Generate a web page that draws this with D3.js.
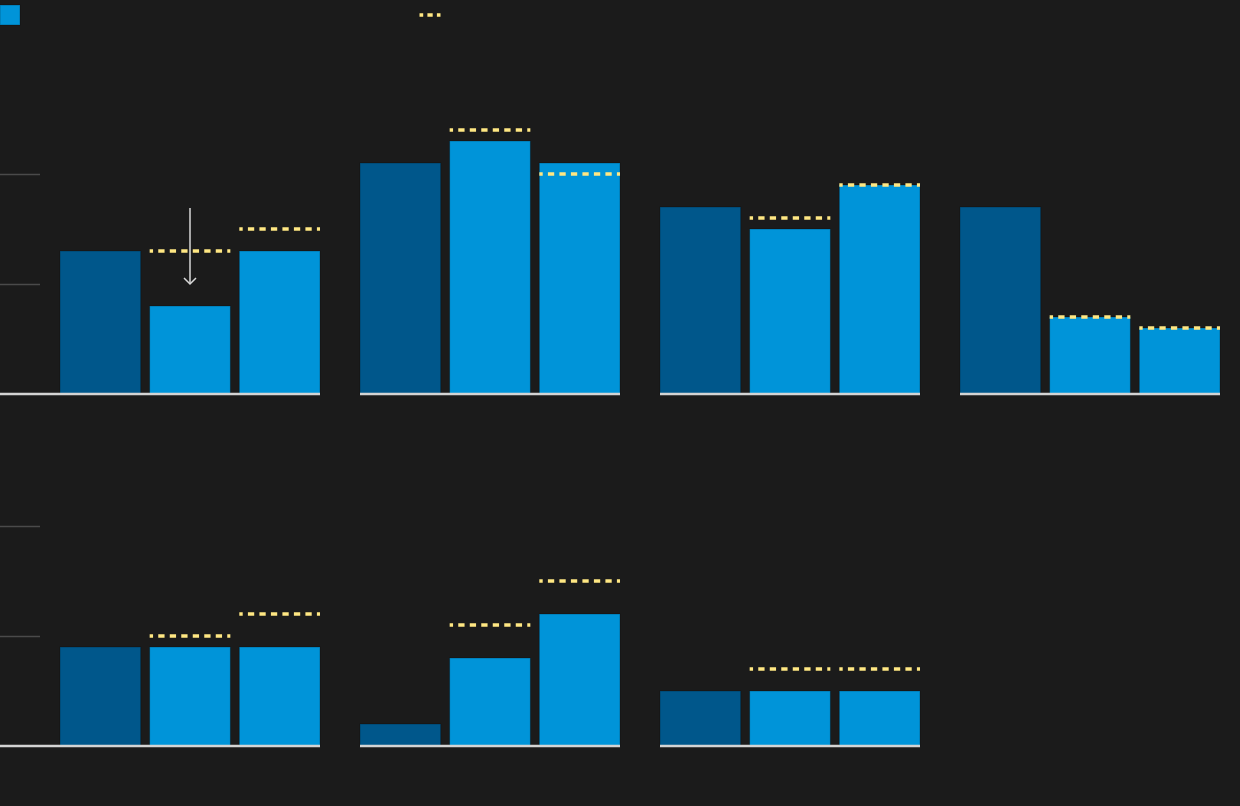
<!DOCTYPE html>
<html>
<head>
<meta charset="utf-8">
<script src="https://cdn.jsdelivr.net/npm/d3@7"></script>
<style>
html,body{margin:0;padding:0;background:#1b1b1b;}
svg{display:block;}
</style>
</head>
<body>
<svg id="chart" width="1240" height="806"></svg>
<script>
// ---- data ----
const panels = ["p1","p2","p3","p4","p5","p6","p7"];
const barKeys = ["base","b2","b3"];
const baseValues = [13, 21, 17, 17, 9, 2, 5];
const b2Values   = [8, 23, 15, 7, 9, 8, 5];
const b3Values   = [13, 21, 19, 6, 9, 12, 5];
const b2Targets  = [13, 24, 16, 7, 10, 11, 7];
const b3Targets  = [15, 20, 19, 6, 12, 15, 7];
const gridTicks  = [10, 20];

const W = 1240, H = 806;
const bg = "#1b1b1b", darkBlue = "#00578b", lightBlue = "#0094d9", yellow = "#ffe783";

const svg = d3.select("#chart");
svg.append("rect").attr("width", W).attr("height", H).attr("fill", bg);

const cols = 4;
const rowBase = [394, 746];
const unitPx = 11; // 10 units = 110px
const colScale = d3.scaleBand().domain(d3.range(cols)).range([60, 1260]).paddingInner(40/300).paddingOuter(0);
// column bands: start 60, width 260, step 300
const xInner = d3.scaleBand().domain(barKeys).range([0, 260]).paddingInner(0.1).paddingOuter(0);

panels.forEach((p, i) => {
  const r = Math.floor(i / cols), c = i % cols;
  const y = d3.scaleLinear().domain([0, 30]).range([rowBase[r], rowBase[r] - 330]);
  const x0 = 60 + c * 300;
  const g = svg.append("g").attr("transform", `translate(${x0},0)`);

  // gridlines for first column
  if (c === 0) {
    const grid = d3.axisLeft(y).tickValues(gridTicks).tickSize(-40).tickFormat("");
    const gg = svg.append("g").attr("transform", `translate(0,0)`).call(grid);
    gg.select(".domain").remove();
    gg.selectAll("line").attr("stroke", "#4a4a4a").attr("stroke-width", 1.5).attr("x1", 0).attr("x2", 40);
  }

  const vals = [baseValues[i], b2Values[i], b3Values[i]];
  const tg = [null, b2Targets[i], b3Targets[i]];

  g.selectAll("rect.bar").data(barKeys.map((k, j) => ({k, v: vals[j], t: tg[j]})))
    .join("rect")
    .attr("class", "bar")
    .attr("x", d => xInner(d.k))
    .attr("width", xInner.bandwidth())
    .attr("y", d => y(d.v))
    .attr("height", d => y(0) - y(d.v))
    .attr("fill", d => d.k === "base" ? darkBlue : lightBlue)
    .attr("stroke", "rgba(0,0,0,0.25)")
    .attr("stroke-width", 1);

  // baseline
  const bl = c === 0 ? -60 : 0;
  g.append("line")
    .attr("x1", bl).attr("x2", 260)
    .attr("y1", y(0)).attr("y2", y(0))
    .attr("stroke", "#d4d4d4").attr("stroke-width", 2.5);

  // target dashes
  g.selectAll("line.target").data(barKeys.map((k, j) => ({k, t: tg[j]})).filter(d => d.t != null))
    .join("line")
    .attr("class", "target")
    .attr("x1", d => xInner(d.k))
    .attr("x2", d => xInner(d.k) + xInner.bandwidth())
    .attr("y1", d => y(d.t)).attr("y2", d => y(d.t))
    .attr("stroke", yellow).attr("stroke-width", 3.5)
    .attr("stroke-dasharray", "6.3 5.2").attr("stroke-dashoffset", 2.9);

  // arrow in first panel
  if (i === 0) {
    const ax = xInner("b2") + xInner.bandwidth() / 2;
    const yTop = y(1.6 * 10 + 2.5), yEnd = y(10);
    g.append("line").attr("x1", ax).attr("x2", ax).attr("y1", y(16.9)).attr("y2", yEnd)
      .attr("stroke", "#d8d8d8").attr("stroke-width", 1.5);
    g.append("path")
      .attr("d", `M${ax - 6},${yEnd - 6}L${ax},${yEnd}L${ax + 6},${yEnd - 6}`)
      .attr("fill", "none").attr("stroke", "#d8d8d8").attr("stroke-width", 1.5);
  }
});

// legend
svg.append("rect").attr("x", 0).attr("y", 5).attr("width", 20).attr("height", 20)
  .attr("fill", lightBlue).attr("stroke", "rgba(0,0,0,0.25)");
svg.append("line").attr("x1", 419.5).attr("x2", 440.5).attr("y1", 15).attr("y2", 15)
  .attr("stroke", yellow).attr("stroke-width", 3.5)
  .attr("stroke-dasharray", "5.3 4.2").attr("stroke-dashoffset", 1.6);
</script>
</body>
</html>
